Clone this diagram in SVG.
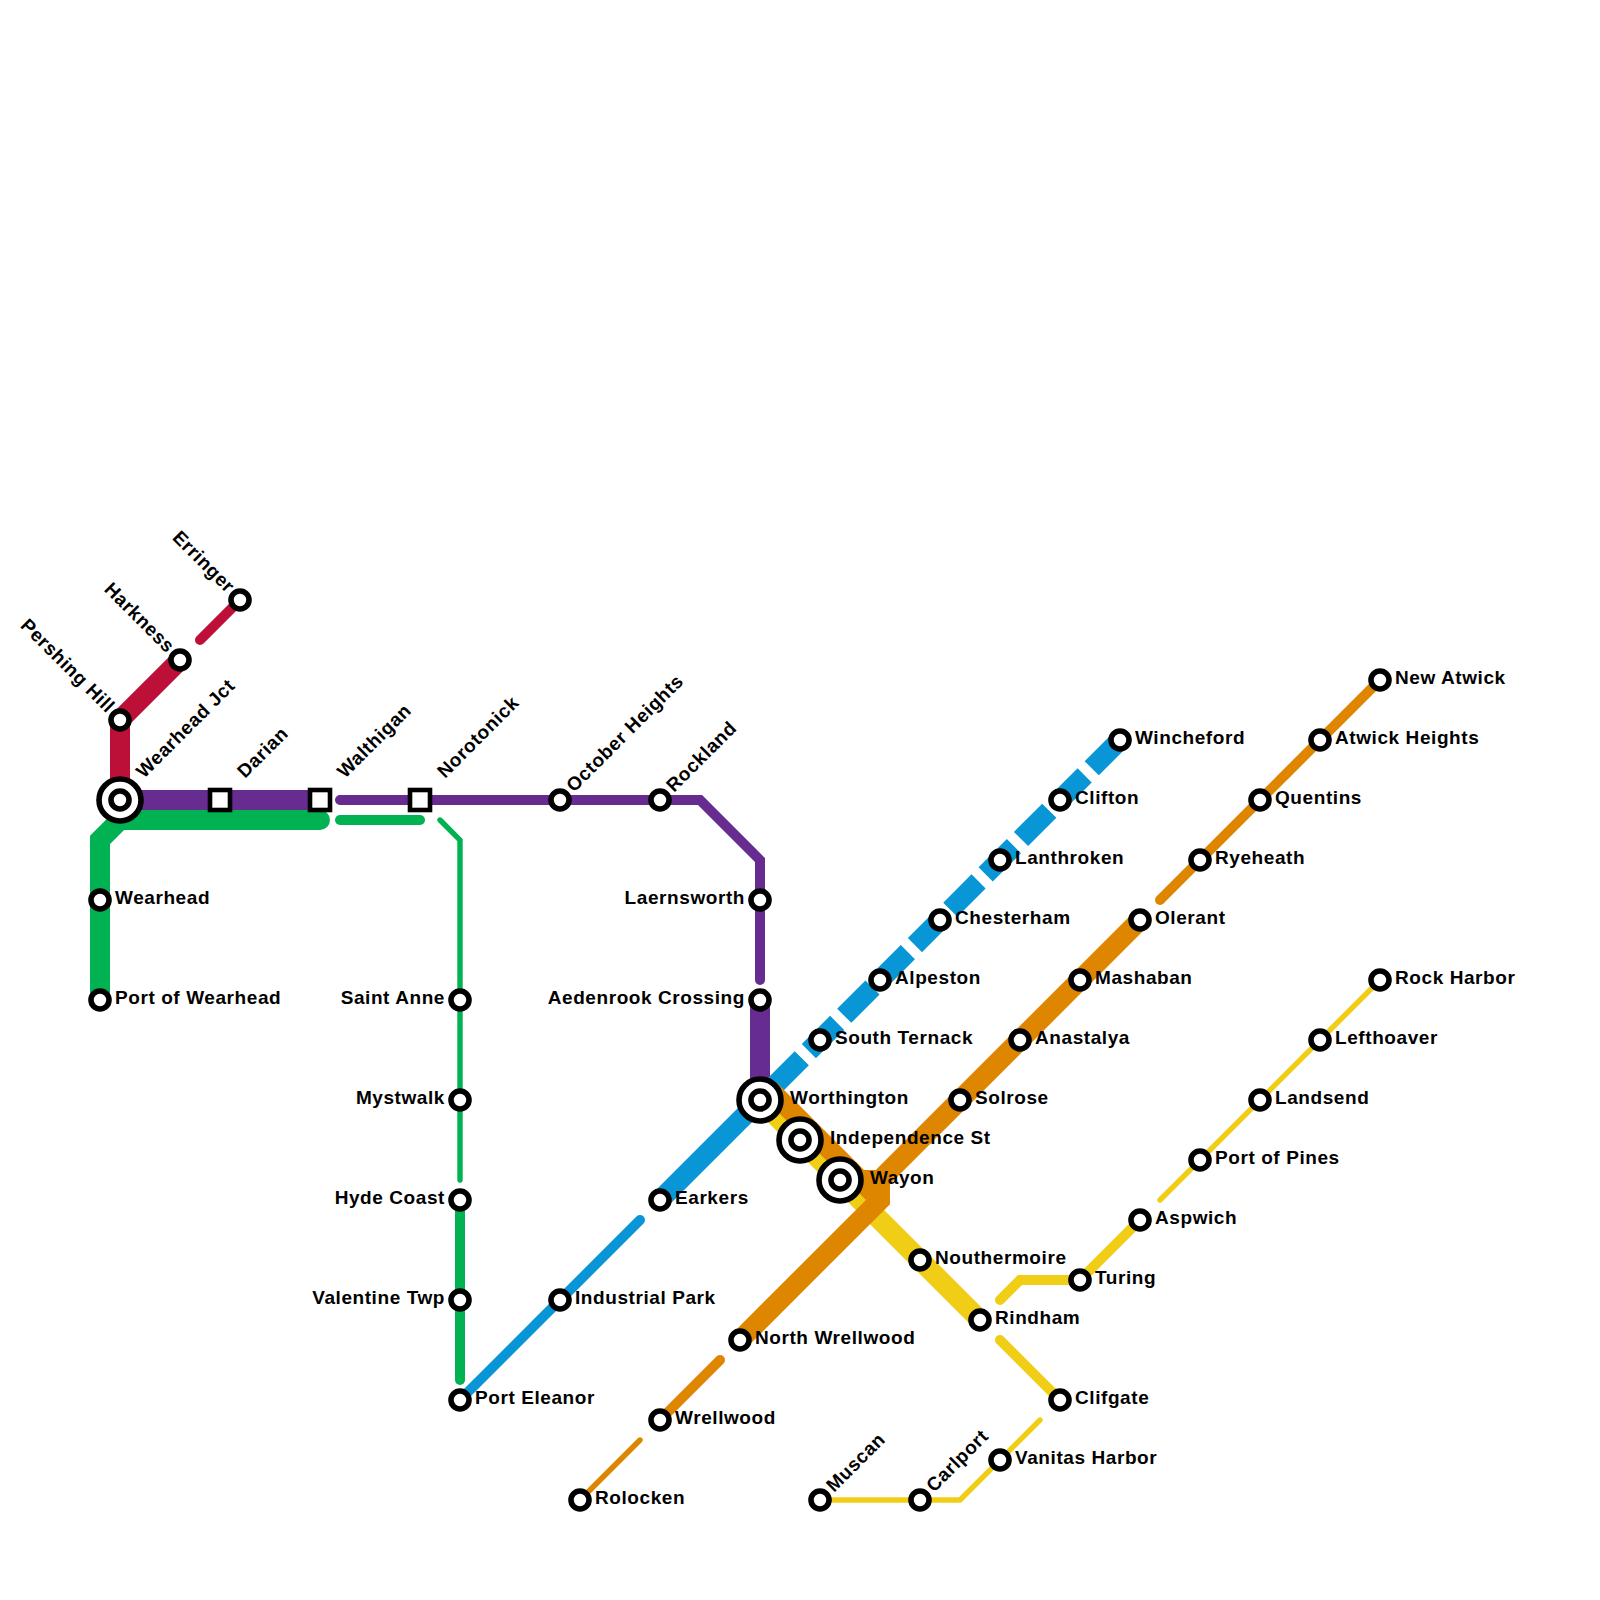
<svg xmlns="http://www.w3.org/2000/svg" width="1600" height="1600" viewBox="0 0 1600 1600">
<style>
.l{fill:none;stroke-linejoin:miter}
.t{stroke-width:20}.m{stroke-width:10;stroke-linecap:round}.s{stroke-width:5.4;stroke-linecap:round}
.red{stroke:#bd1038}.pur{stroke:#662c90}.grn{stroke:#00b251}.blu{stroke:#0896d7}.org{stroke:#df8600}.yel{stroke:#f0ce15}
.st circle{fill:#fff;stroke:#000;stroke-width:5.6}
.st rect{fill:#fff;stroke:#000;stroke-width:4.6}
text{font-family:"Liberation Sans",Arial,sans-serif;font-weight:700;font-size:19px;letter-spacing:.58px;fill:#000}
.e{text-anchor:end}
</style>
<rect width="1600" height="1600" fill="#fff"/>
<g id="connectors">
<path class="l t red" d="M180 660L120 720V800"/>
<path class="l m red" d="M240 600L200 640"/>
<path class="l t pur" d="M120 800H320"/>
<path class="l m pur" d="M340 800H700L760 860V980"/>
<path class="l t pur" d="M760 1000V1100"/>
<path class="l t grn" d="M100 1000V840L120 820H320"/>
<circle cx="320" cy="820" r="10" fill="#00b251"/>
<path class="l m grn" d="M340 820H420"/>
<path class="l s grn" d="M440 820L460 840V1180"/>
<path class="l m grn" d="M460 1200V1380"/>
<path class="l m blu" d="M460 1400L640 1220"/>
<path class="l t blu" d="M660 1200L760 1100"/>
<path class="l t blu" stroke-dasharray="40 10" d="M1120 740L760 1100"/>
<path class="l t yel" d="M760 1100L980 1320"/>
<path class="l m yel" d="M1000 1340L1060 1400"/>
<path class="l m yel" d="M1000 1300L1020 1280H1080L1140 1220"/>
<path class="l s yel" d="M1160 1200L1380 980"/>
<path class="l s yel" d="M820 1500H960L1040 1420"/>
<path class="l s org" d="M580 1500L640 1440"/>
<path class="l m org" d="M660 1420L720 1360"/>
<path class="l t org" d="M740 1340L880 1200V1180L1140 920"/>
<path class="l t org" d="M770 1090L873 1193"/>
<path class="l t org" d="M860 1180H880"/>
<path class="l m org" d="M1160 900L1380 680"/>
</g>
<g id="st-erringer" class="st"><circle cx="240" cy="600" r="9"/><text class="e" transform="translate(227,594) rotate(45)">Erringer</text></g>
<g id="st-harkness" class="st"><circle cx="180" cy="660" r="9"/><text class="e" transform="translate(167,654) rotate(45)">Harkness</text></g>
<g id="st-pershing-hill" class="st"><circle cx="120" cy="720" r="9"/><text class="e" transform="translate(107,714) rotate(45)">Pershing Hill</text></g>
<g id="st-wearhead-jct" class="st"><circle cx="120" cy="800" r="21"/><circle cx="120" cy="800" r="9"/><text transform="translate(144,779) rotate(-45)">Wearhead Jct</text></g>
<g id="st-darian" class="st"><rect x="210" y="790" width="20" height="20"/><text transform="translate(245,779) rotate(-45)">Darian</text></g>
<g id="st-walthigan" class="st"><rect x="310" y="790" width="20" height="20"/><text transform="translate(345,779) rotate(-45)">Walthigan</text></g>
<g id="st-norotonick" class="st"><rect x="410" y="790" width="20" height="20"/><text transform="translate(445,779) rotate(-45)">Norotonick</text></g>
<g id="st-october-heights" class="st"><circle cx="560" cy="800" r="9"/><text transform="translate(574,793) rotate(-45)">October Heights</text></g>
<g id="st-rockland" class="st"><circle cx="660" cy="800" r="9"/><text transform="translate(674,793) rotate(-45)">Rockland</text></g>
<g id="st-laernsworth" class="st"><circle cx="760" cy="900" r="9"/><text class="e" x="745" y="904">Laernsworth</text></g>
<g id="st-aedenrook" class="st"><circle cx="760" cy="1000" r="9"/><text class="e" x="745" y="1004">Aedenrook Crossing</text></g>
<g id="st-wearhead" class="st"><circle cx="100" cy="900" r="9"/><text x="115" y="904">Wearhead</text></g>
<g id="st-port-of-wearhead" class="st"><circle cx="100" cy="1000" r="9"/><text x="115" y="1004">Port of Wearhead</text></g>
<g id="st-saint-anne" class="st"><circle cx="460" cy="1000" r="9"/><text class="e" x="445" y="1004">Saint Anne</text></g>
<g id="st-mystwalk" class="st"><circle cx="460" cy="1100" r="9"/><text class="e" x="445" y="1104">Mystwalk</text></g>
<g id="st-hyde-coast" class="st"><circle cx="460" cy="1200" r="9"/><text class="e" x="445" y="1204">Hyde Coast</text></g>
<g id="st-valentine" class="st"><circle cx="460" cy="1300" r="9"/><text class="e" x="445" y="1304">Valentine Twp</text></g>
<g id="st-port-eleanor" class="st"><circle cx="460" cy="1400" r="9"/><text x="475" y="1404">Port Eleanor</text></g>
<g id="st-industrial-park" class="st"><circle cx="560" cy="1300" r="9"/><text x="575" y="1304">Industrial Park</text></g>
<g id="st-earkers" class="st"><circle cx="660" cy="1200" r="9"/><text x="675" y="1204">Earkers</text></g>
<g id="st-worthington" class="st"><circle cx="760" cy="1100" r="21"/><circle cx="760" cy="1100" r="9"/><text x="790" y="1104">Worthington</text></g>
<g id="st-independence" class="st"><circle cx="800" cy="1140" r="21"/><circle cx="800" cy="1140" r="9"/><text x="830" y="1144">Independence St</text></g>
<g id="st-wayon" class="st"><circle cx="840" cy="1180" r="21"/><circle cx="840" cy="1180" r="9"/><text x="870" y="1184">Wayon</text></g>
<g id="st-south-ternack" class="st"><circle cx="820" cy="1040" r="9"/><text x="835" y="1044">South Ternack</text></g>
<g id="st-alpeston" class="st"><circle cx="880" cy="980" r="9"/><text x="895" y="984">Alpeston</text></g>
<g id="st-chesterham" class="st"><circle cx="940" cy="920" r="9"/><text x="955" y="924">Chesterham</text></g>
<g id="st-lanthroken" class="st"><circle cx="1000" cy="860" r="9"/><text x="1015" y="864">Lanthroken</text></g>
<g id="st-clifton" class="st"><circle cx="1060" cy="800" r="9"/><text x="1075" y="804">Clifton</text></g>
<g id="st-wincheford" class="st"><circle cx="1120" cy="740" r="9"/><text x="1135" y="744">Wincheford</text></g>
<g id="st-rolocken" class="st"><circle cx="580" cy="1500" r="9"/><text x="595" y="1504">Rolocken</text></g>
<g id="st-wrellwood" class="st"><circle cx="660" cy="1420" r="9"/><text x="675" y="1424">Wrellwood</text></g>
<g id="st-north-wrellwood" class="st"><circle cx="740" cy="1340" r="9"/><text x="755" y="1344">North Wrellwood</text></g>
<g id="st-solrose" class="st"><circle cx="960" cy="1100" r="9"/><text x="975" y="1104">Solrose</text></g>
<g id="st-anastalya" class="st"><circle cx="1020" cy="1040" r="9"/><text x="1035" y="1044">Anastalya</text></g>
<g id="st-mashaban" class="st"><circle cx="1080" cy="980" r="9"/><text x="1095" y="984">Mashaban</text></g>
<g id="st-olerant" class="st"><circle cx="1140" cy="920" r="9"/><text x="1155" y="924">Olerant</text></g>
<g id="st-ryeheath" class="st"><circle cx="1200" cy="860" r="9"/><text x="1215" y="864">Ryeheath</text></g>
<g id="st-quentins" class="st"><circle cx="1260" cy="800" r="9"/><text x="1275" y="804">Quentins</text></g>
<g id="st-atwick-heights" class="st"><circle cx="1320" cy="740" r="9"/><text x="1335" y="744">Atwick Heights</text></g>
<g id="st-new-atwick" class="st"><circle cx="1380" cy="680" r="9"/><text x="1395" y="684">New Atwick</text></g>
<g id="st-nouthermoire" class="st"><circle cx="920" cy="1260" r="9"/><text x="935" y="1264">Nouthermoire</text></g>
<g id="st-rindham" class="st"><circle cx="980" cy="1320" r="9"/><text x="995" y="1324">Rindham</text></g>
<g id="st-clifgate" class="st"><circle cx="1060" cy="1400" r="9"/><text x="1075" y="1404">Clifgate</text></g>
<g id="st-vanitas" class="st"><circle cx="1000" cy="1460" r="9"/><text x="1015" y="1464">Vanitas Harbor</text></g>
<g id="st-carlport" class="st"><circle cx="920" cy="1500" r="9"/><text transform="translate(934,1493) rotate(-45)">Carlport</text></g>
<g id="st-muscan" class="st"><circle cx="820" cy="1500" r="9"/><text transform="translate(834,1493) rotate(-45)">Muscan</text></g>
<g id="st-turing" class="st"><circle cx="1080" cy="1280" r="9"/><text x="1095" y="1284">Turing</text></g>
<g id="st-aspwich" class="st"><circle cx="1140" cy="1220" r="9"/><text x="1155" y="1224">Aspwich</text></g>
<g id="st-port-of-pines" class="st"><circle cx="1200" cy="1160" r="9"/><text x="1215" y="1164">Port of Pines</text></g>
<g id="st-landsend" class="st"><circle cx="1260" cy="1100" r="9"/><text x="1275" y="1104">Landsend</text></g>
<g id="st-lefthoaver" class="st"><circle cx="1320" cy="1040" r="9"/><text x="1335" y="1044">Lefthoaver</text></g>
<g id="st-rock-harbor" class="st"><circle cx="1380" cy="980" r="9"/><text x="1395" y="984">Rock Harbor</text></g>
</svg>
